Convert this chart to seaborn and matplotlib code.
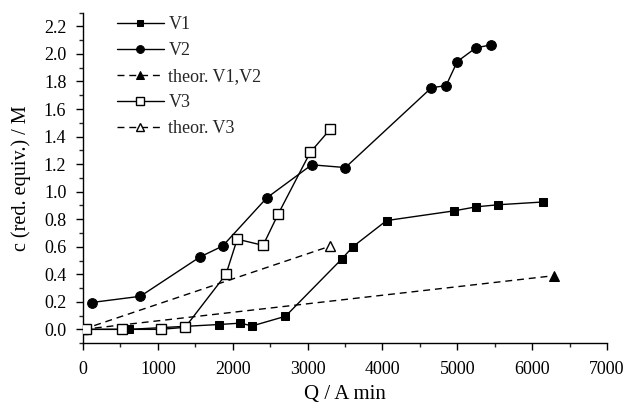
import numpy as np
import matplotlib
matplotlib.use("Agg")
import matplotlib.pyplot as plt
import seaborn as sns

# data
v1_x = [50, 620, 1810, 2100, 2260, 2705, 3455, 3605, 4055, 4950, 5255, 5550, 6145]
v1_y = [0.0, 0.0, 0.035, 0.045, 0.025, 0.095, 0.51, 0.60, 0.79, 0.86, 0.89, 0.905, 0.925]

v2_x = [115, 765, 1560, 1865, 2455, 3055, 3505, 4655, 4850, 5000, 5250, 5445]
v2_y = [0.195, 0.24, 0.525, 0.605, 0.955, 1.195, 1.175, 1.755, 1.77, 1.945, 2.045, 2.065]

v3_x = [40, 520, 1040, 1365, 1910, 2060, 2405, 2605, 3035, 3305]
v3_y = [0.0, 0.0, 0.0, 0.015, 0.40, 0.655, 0.61, 0.835, 1.285, 1.455]

th12_x = [0, 6295]
th12_y = [0.0, 0.39]

th3_x = [0, 3305]
th3_y = [0.0, 0.605]

sns.set_style("ticks")
plt.rcParams['font.family'] = ['Liberation Serif', 'DejaVu Serif']

fig = plt.figure(figsize=(6.29, 4.08), dpi=100)
ax = fig.add_axes([0.132, 0.159, 0.833, 0.81])

common = dict(ax=ax, color='k', linewidth=1.0, estimator=None, sort=False)

sns.lineplot(x=v1_x, y=v1_y, marker='s', markersize=6, markerfacecolor='k',
             markeredgecolor='k', label='V1', zorder=3, **common)
sns.lineplot(x=v2_x, y=v2_y, marker='o', markersize=7, markerfacecolor='k',
             markeredgecolor='k', label='V2', zorder=3, **common)
sns.lineplot(x=th12_x, y=th12_y, marker='^', markersize=7, markerfacecolor='k',
             markeredgecolor='k', linestyle=(0, (5, 3.5)), label='theor. V1,V2', zorder=2, **common)
sns.lineplot(x=v3_x, y=v3_y, marker='s', markersize=7, markerfacecolor='white',
             markeredgecolor='k', markeredgewidth=1.0, label='V3', zorder=4, **common)
sns.lineplot(x=th3_x, y=th3_y, marker='^', markersize=7, markerfacecolor='white',
             markeredgecolor='k', markeredgewidth=1.0, linestyle=(0, (5, 3.5)), label='theor. V3',
             zorder=2, **common)

ax.set_xlim(0, 7000)
ax.set_ylim(-0.1, 2.3)
ax.set_xticks(np.arange(0, 7001, 1000))
ax.set_yticks(np.arange(0, 2.21, 0.2))
ax.set_yticklabels([f"{t:.1f}" for t in np.arange(0, 2.21, 0.2)])
ax.xaxis.set_minor_locator(matplotlib.ticker.MultipleLocator(500))
ax.yaxis.set_minor_locator(matplotlib.ticker.MultipleLocator(0.1))
ax.tick_params(which='major', length=5, width=1, labelsize=13, colors='k', direction='out')
ax.tick_params(which='minor', length=3, width=1, direction='out')
ax.tick_params(axis='x', pad=8)
ax.tick_params(axis='y', pad=7)

sns.despine(ax=ax)
for s in ['left', 'bottom']:
    ax.spines[s].set_linewidth(1.0)
    ax.spines[s].set_color('k')

ax.set_xlabel('Q / A min', fontsize=15, color='k', labelpad=5)
ax.set_ylabel('c (red. equiv.) / M', fontsize=14.5, color='k', labelpad=9)

leg = ax.legend(loc='upper left', bbox_to_anchor=(0.186, 0.96), bbox_transform=fig.transFigure,
                frameon=False, fontsize=13, handlelength=2.6, handletextpad=0.25,
                labelspacing=0.5, borderpad=0, borderaxespad=0, markerscale=0.8)

fig.savefig('out.png', dpi=100)
